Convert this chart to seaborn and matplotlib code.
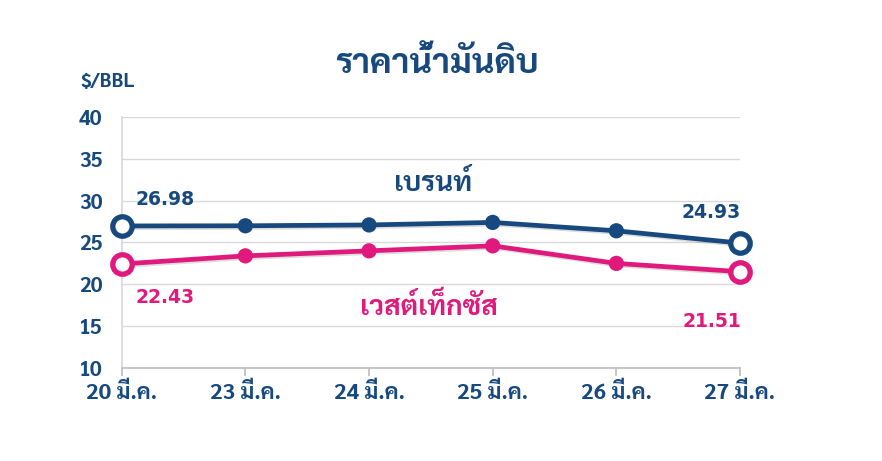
import numpy as np
import pandas as pd
import matplotlib
matplotlib.use("Agg")
import matplotlib.pyplot as plt
import matplotlib.patheffects as pe
import seaborn as sns

# データ
dates = ["20 มี.ค.", "23 มี.ค.", "24 มี.ค.", "25 มี.ค.", "26 มี.ค.", "27 มี.ค."]
brent = [26.98, 27.0, 27.1, 27.4, 26.4, 24.93]
wti = [22.43, 23.4, 24.0, 24.6, 22.5, 21.51]
series_names = ["เบรนท์", "เวสต์เท็กซัส"]
yticks = [10, 15, 20, 25, 30, 35, 40]

navy = "#17497e"
pink = "#e0197d"

sns.set_theme(style="white")
plt.rcParams["font.family"] = ["Sarabun", "DejaVu Sans"]
plt.rcParams["font.weight"] = "bold"

df = pd.DataFrame({
    "x": list(range(len(dates))) * 2,
    "price": brent + wti,
    "name": [series_names[0]] * len(dates) + [series_names[1]] * len(dates),
})

fig = plt.figure(figsize=(8.82, 4.61), dpi=100)
ax = fig.add_axes([0.138, 0.202, 0.701, 0.544])

shadow = [pe.SimpleLineShadow(offset=(1.2, -1.2), alpha=0.15), pe.Normal()]
sns.lineplot(data=df, x="x", y="price", hue="name", palette=[navy, pink],
             marker="o", markersize=11, markeredgewidth=0, linewidth=3.4,
             legend=False, ax=ax, path_effects=shadow)

# 両端の白抜きマーカー
for vals, c in [(brent, navy), (wti, pink)]:
    ax.plot([0, len(dates) - 1], [vals[0], vals[-1]], linestyle="none", marker="o",
            markersize=14, markerfacecolor="white", markeredgecolor=c,
            markeredgewidth=3.8, clip_on=False, zorder=5)

ax.set_xlim(0, len(dates) - 1)
ax.set_ylim(10, 40)
ax.set_yticks(yticks)
ax.set_xticks(range(len(dates)))
ax.set_xticklabels(dates)
ax.set_xlabel("")
ax.set_ylabel("")
ax.grid(axis="y", color="#d9d9d9", linewidth=1)
ax.grid(axis="x", visible=False)
for s in ["top", "right"]:
    ax.spines[s].set_visible(False)
ax.spines["left"].set_color("#d9d9d9")
ax.spines["bottom"].set_color("#bfbfbf")
ax.tick_params(axis="x", which="both", bottom=True, length=6, color="#bfbfbf",
               labelsize=16, labelcolor=navy, pad=5)
ax.tick_params(axis="y", left=False, labelsize=15, labelcolor=navy, pad=8)

# ラベル
num_font = dict(family="DejaVu Sans", fontweight="bold", fontsize=13.5)
ax.text(0.35, 30.1, "26.98", color=navy, ha="center", va="center", **num_font)
ax.text(0.35, 18.4, "22.43", color=pink, ha="center", va="center", **num_font)
ax.text(4.77, 28.6, "24.93", color=navy, ha="center", va="center", **num_font)
ax.text(4.77, 15.6, "21.51", color=pink, ha="center", va="center", **num_font)
ax.text(2.52, 32.1, series_names[0], color=navy, ha="center", va="center",
        fontsize=20, fontweight="bold")
ax.text(2.48, 17.3, series_names[1], color=pink, ha="center", va="center",
        fontsize=20, fontweight="bold")

fig.text(0.496, 0.862, "ราคาน้ำมันดิบ", color=navy, ha="center", va="center",
         fontsize=25, fontweight="bold")
fig.text(0.091, 0.822, "$/BBL", color=navy, ha="left", va="center",
         fontsize=14, fontweight="bold")

fig.savefig("out.png", dpi=100, facecolor="white")
